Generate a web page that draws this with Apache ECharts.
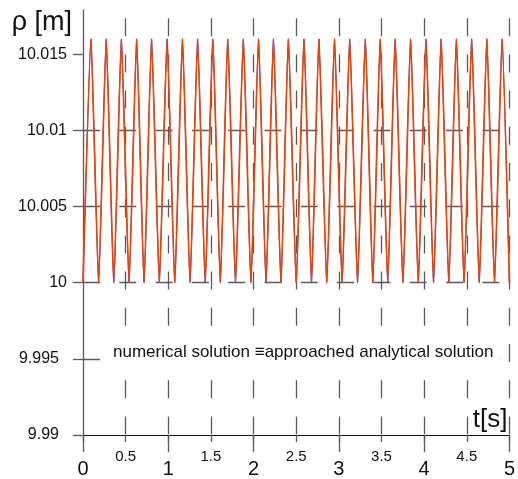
<!DOCTYPE html>
<html>
<head>
<meta charset="utf-8">
<script src="https://cdn.jsdelivr.net/npm/echarts@6/dist/echarts.min.js"></script>
<style>html,body{margin:0;padding:0;background:#fff}#c{width:518px;height:479px}</style>
</head>
<body>
<div id="c"></div>
<script>
// Times (s) of the maxima and minima
var tPeaks = [0.093,0.272,0.450,0.629,0.804,0.986,1.166,1.344,1.522,1.697,1.880,2.058,2.233,2.408,2.591,2.766,2.949,3.127,3.310,3.485,3.660,3.841,4.021,4.199,4.378,4.557,4.735,4.914];
var tTroughs = [0,0.183,0.361,0.540,0.716,0.895,1.076,1.255,1.433,1.610,1.788,1.969,2.146,2.321,2.500,2.679,2.858,3.038,3.219,3.398,3.573,3.751,3.931,4.110,4.289,4.468,4.646,4.825,5.0];
var rhoMax = 10.0160;   // [m] level of the maxima
var rhoMin = 10.0000;   // [m] level of the minima
var yTicks = [9.99, 9.995, 10, 10.005, 10.01, 10.015];
var yTickLabels = ['9.99', '9.995', '10', '10.005', '10.01', '10.015'];

function buildSeries() {
  var pts = [];
  tTroughs.forEach(function (t) { pts.push([t, rhoMin]); });
  tPeaks.forEach(function (t) { pts.push([t, rhoMax]); });
  pts.sort(function (a, b) { return a[0] - b[0]; });
  return pts;
}
var numerical = buildSeries();
var analytical = buildSeries();

var chart = echarts.init(document.getElementById('c'), null, {renderer: 'canvas'});
var font = 'Liberation Sans, Arial, sans-serif';
var gridColor = '#5a5a5a';
chart.setOption({
  animation: false,
  backgroundColor: '#fff',
  title: {
    text: 'numerical solution \u2261approached analytical solution',
    left: 108, top: 341,
    backgroundColor: '#fff',
    padding: [3, 6, 3, 5],
    textStyle: {fontFamily: font, fontSize: 17, fontWeight: 'normal', color: '#111'}
  },
  grid: {left: 83, right: 6, top: 10, bottom: 44, containLabel: false},
  xAxis: [{
    type: 'value', min: 0, max: 5, interval: 0.5,
    name: 't[s]', nameLocation: 'end', nameGap: -2,
    nameTextStyle: {fontFamily: font, fontSize: 26, color: '#111', align: 'right', verticalAlign: 'bottom', padding: [0, 0, 2, 0]},
    axisLine: {show: true, onZero: false, lineStyle: {color: '#111', width: 1}},
    axisTick: {show: true, length: 7, lineStyle: {color: gridColor, width: 1.3}},
    axisLabel: {
      margin: 14, fontFamily: font, fontSize: 15, color: '#111',
      formatter: function (v) { return (Math.abs(v % 1) > 1e-6) ? String(v) : ''; }
    },
    splitLine: {show: true, showMinLine: false, lineStyle: {color: gridColor, width: 1.3, type: [18, 18.2], dashOffset: 28}}
  }, {
    type: 'value', min: 0, max: 5, interval: 1, position: 'bottom',
    axisLine: {show: false},
    axisTick: {show: true, length: 17, lineStyle: {color: gridColor, width: 1.3}},
    axisLabel: {margin: 24, fontFamily: font, fontSize: 20, color: '#111'},
    splitLine: {show: false}
  }],
  yAxis: {
    type: 'value', min: 9.99, max: 10.0179,
    name: 'ρ [m]', nameLocation: 'end', nameGap: -13,
    nameTextStyle: {fontFamily: font, fontSize: 27, color: '#111', align: 'right', verticalAlign: 'middle', padding: [0, 11, 0, 0]},
    axisLine: {show: true, lineStyle: {color: gridColor, width: 1.3}},
    axisTick: {show: true, length: 10, customValues: yTicks, lineStyle: {color: gridColor, width: 1.3}},
    axisLabel: {
      margin: 16, fontFamily: font, fontSize: 16, color: '#111', customValues: yTicks,
      formatter: function (v) {
        for (var i = 0; i < yTicks.length; i++) {
          if (Math.abs(yTicks[i] - v) < 1e-7) return v < 10 ? '{s|' + yTickLabels[i] + '}' : yTickLabels[i];
        }
        return '';
      },
      rich: {s: {fontFamily: font, fontSize: 16, color: '#111', padding: [0, 8, 0, 0]}}
    },
    splitLine: {show: true, showMinLine: false, showMaxLine: false, lineStyle: {color: gridColor, width: 1.3, type: [17, 19.3]}}
  },
  series: [{
    name: 'numerical solution', type: 'line', data: numerical, xAxisIndex: 0,
    showSymbol: false, smooth: 0.15, lineStyle: {color: '#55409a', width: 1.0}, z: 2
  }, {
    name: 'approached analytical solution', type: 'line', data: analytical, xAxisIndex: 0,
    showSymbol: false, smooth: 0.15, lineStyle: {color: '#e8440c', width: 1.7}, z: 3
  }]
});
</script>
</body>
</html>
